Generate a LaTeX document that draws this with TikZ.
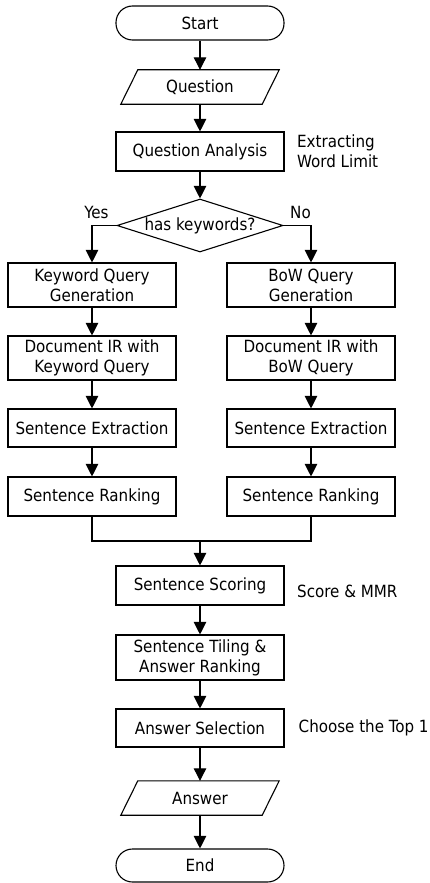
\documentclass[tikz,border=0pt]{standalone}
\usepackage{fontspec}
\setmainfont{DejaVu Sans Condensed}
\usetikzlibrary{arrows.meta,shapes.geometric,calc}
\begin{document}
\begin{tikzpicture}[x=1pt,y=-1pt,
  every node/.style={font=\fontsize{16.8}{20}\selectfont, inner sep=0pt},
  proc/.style={draw, line width=1.1pt, rectangle, minimum width=168pt, align=center},
  term/.style={draw, line width=1.1pt, rectangle, rounded corners=16.5pt, minimum width=168pt},
  io/.style={rectangle, minimum width=158pt, minimum height=34pt},
  decis/.style={draw, line width=1.1pt, diamond, aspect=3.13, minimum width=166pt, minimum height=53pt},
  note/.style={anchor=west, align=left},
  arr/.style={line width=1.1pt, -{Triangle[width=12.5pt,length=12.5pt]}},
  ln/.style={line width=1.1pt}
]
\useasboundingbox (0,0) rectangle (429,883);

\node[term, minimum height=34pt] (start) at (200,23) {Start};
\node[io] (q) at (200,87) {Question};
\draw[ln] (q.south west) -- ($(q.north west)+(17,0)$) -- (q.north east) -- ($(q.south east)+(-17,0)$) -- cycle;
\node[proc, minimum height=39pt] (qa) at (200,151.5) {Question Analysis};
\node[note] (qanote) at (297,151.5) {Extracting\\Word Limit};
\node[decis] (dec) at (200,225.5) {has keywords?};
\node (yes) at (96.5,212) {Yes};
\node (no) at (300.5,212) {No};

\node[proc, minimum height=44pt] (kq) at (92,285) {Keyword Query\\Generation};
\node[proc, minimum height=44pt] (bq) at (311,285) {BoW Query\\Generation};
\node[proc, minimum height=44pt] (kd) at (92,358) {Document IR with\\Keyword Query};
\node[proc, minimum height=44pt] (bd) at (311,358) {Document IR with\\BoW Query};
\node[proc, minimum height=38pt] (ke) at (92,428) {Sentence Extraction};
\node[proc, minimum height=38pt] (be) at (311,428) {Sentence Extraction};
\node[proc, minimum height=39pt] (kr) at (92,496.5) {Sentence Ranking};
\node[proc, minimum height=39pt] (br) at (311,496.5) {Sentence Ranking};
\coordinate (m) at (200,541);

\node[proc, minimum height=39pt] (ss) at (200,585.5) {Sentence Scoring};
\node[note] (ssnote) at (297,591) {Score \& MMR};
\node[proc, minimum height=45pt] (st) at (200,657.5) {Sentence Tiling \&\\Answer Ranking};
\node[proc, minimum height=38pt] (as) at (200,728) {Answer Selection};
\node[note] (asnote) at (298.5,728) {Choose the Top 1};
\node[io] (ans) at (200,798) {Answer};
\draw[ln] (ans.south west) -- ($(ans.north west)+(17,0)$) -- (ans.north east) -- ($(ans.south east)+(-17,0)$) -- cycle;
\node[term, minimum height=33pt] (end) at (200,865.5) {End};

\draw[arr] (start) -- (q);
\draw[arr] (q) -- (qa);
\draw[arr] (qa) -- (dec);
\draw[arr] (dec.west) -| (kq.north);
\draw[arr] (dec.east) -| (bq.north);
\draw[arr] (kq) -- (kd);
\draw[arr] (kd) -- (ke);
\draw[arr] (ke) -- (kr);
\draw[arr] (bq) -- (bd);
\draw[arr] (bd) -- (be);
\draw[arr] (be) -- (br);
\draw[ln] (kr.south) -- (kr.south |- m) -- (br.south |- m) -- (br.south);
\draw[arr] (m) -- (ss.north);
\draw[arr] (ss) -- (st);
\draw[arr] (st) -- (as);
\draw[arr] (as) -- (ans);
\draw[arr] (ans) -- (end);
\end{tikzpicture}
\end{document}
